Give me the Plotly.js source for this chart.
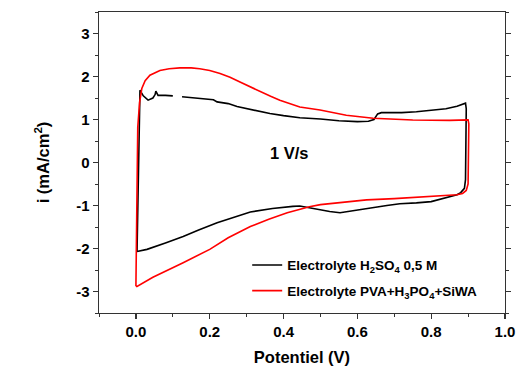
<!DOCTYPE html>
<html>
<head>
<meta charset="utf-8">
<script src="https://cdn.plot.ly/plotly-3.0.1.min.js"></script>
<style>html,body{margin:0;padding:0;background:#fff;}#chart{width:517px;height:369px;}</style>
</head>
<body>
<div id="chart"></div>
<script>
// H2SO4 0,5 M cyclic voltammogram (null = gap in the trace)
const h2so4X = [0.003,0.005,0.007,0.009,0.010,0.011,0.020,0.033,0.046,0.052,0.054,0.060,0.080,0.100,null,0.125,0.170,0.210,0.220,0.250,0.274,0.300,0.363,0.400,0.444,0.500,0.550,0.600,0.630,0.645,0.655,0.665,0.680,0.720,0.760,0.800,0.840,0.870,0.888,0.893,0.895,0.895,0.894,0.893,0.890,0.886,0.880,0.870,0.840,0.800,0.760,0.715,0.680,0.625,0.580,0.553,0.525,0.480,0.444,0.425,0.370,0.310,0.260,0.220,0.170,0.128,0.080,0.030,0.003];
const h2so4Y = [-2.07,-1.0,0.0,1.0,1.5,1.68,1.55,1.45,1.50,1.58,1.66,1.56,1.56,1.55,null,1.53,1.50,1.46,1.41,1.37,1.30,1.25,1.14,1.09,1.04,1.01,0.97,0.95,0.96,1.00,1.13,1.16,1.16,1.16,1.18,1.21,1.25,1.31,1.36,1.38,1.25,0.5,0.0,-0.4,-0.6,-0.65,-0.70,-0.75,-0.82,-0.91,-0.94,-0.96,-1.00,-1.08,-1.14,-1.17,-1.14,-1.06,-1.01,-1.02,-1.07,-1.15,-1.28,-1.40,-1.57,-1.72,-1.87,-2.02,-2.07];
// PVA+H3PO4+SiWA cyclic voltammogram
const pvaX = [0.000,0.002,0.003,0.005,0.010,0.016,0.025,0.038,0.065,0.090,0.119,0.150,0.173,0.200,0.228,0.255,0.282,0.310,0.336,0.365,0.390,0.444,0.499,0.570,0.643,0.700,0.750,0.850,0.900,0.902,0.902,0.900,0.895,0.885,0.870,0.805,0.700,0.625,0.550,0.500,0.470,0.444,0.410,0.360,0.310,0.250,0.200,0.128,0.046,0.003,0.000];
const pvaY = [-2.88,-1.5,0.0,0.82,1.40,1.72,1.90,2.03,2.14,2.18,2.20,2.20,2.18,2.14,2.07,1.98,1.87,1.76,1.64,1.54,1.45,1.29,1.22,1.10,1.03,1.00,0.99,0.98,0.99,0.90,0.0,-0.5,-0.65,-0.72,-0.75,-0.79,-0.84,-0.87,-0.93,-0.98,-1.03,-1.09,-1.17,-1.32,-1.49,-1.75,-2.02,-2.33,-2.67,-2.88,-2.88];

const seriesNames = ['Electrolyte H<sub>2</sub>SO<sub>4</sub> 0,5 M','Electrolyte PVA+H<sub>3</sub>PO<sub>4</sub>+SiWA'];
const xTickVals = [0.0,0.2,0.4,0.6,0.8,1.0];
const xTickText = ['0.0','0.2','0.4','0.6','0.8','1.0'];
const yTickVals = [-3,-2,-1,0,1,2,3];
const yTickText = ['-3','-2','-1','0','1','2','3'];
const scanRateLabel = '1 V/s';

const F = 'Liberation Sans, Arial, sans-serif';

const traces = [
  {x: h2so4X, y: h2so4Y, mode: 'lines', name: seriesNames[0], connectgaps: false, legendgroup: 'a',
   line: {color: '#000000', width: 1.6}},
  {x: pvaX, y: pvaY, mode: 'lines', name: seriesNames[1], legendgroup: 'b',
   line: {color: '#ff0000', width: 1.6}}
];

const layout = {
  width: 517, height: 369,
  margin: {l: 99, r: 12, t: 12, b: 56},
  paper_bgcolor: '#fff', plot_bgcolor: '#fff',
  showlegend: true,
  legend: {x: 0.365, xanchor: 'left', y: 0.21, yanchor: 'top',
           bgcolor: 'rgba(0,0,0,0)', borderwidth: 0,
           font: {family: F, size: 13.5, color: '#000', weight: 'bold'},
           itemwidth: 30, tracegroupgap: 5},
  xaxis: {range: [-0.1, 1.0], tickvals: xTickVals, ticktext: xTickText,
          ticks: 'outside', ticklen: 5, tickwidth: 1.2, tickcolor: '#333',
          minor: {dtick: 0.1, tick0: 0, ticks: 'outside', ticklen: 3, tickwidth: 1, tickcolor: '#333'},
          showline: true, linecolor: '#333', linewidth: 1.3, mirror: true,
          showgrid: false, zeroline: false,
          tickfont: {family: F, size: 15, color: '#000', weight: 'bold'},
          title: {text: 'Potentiel (V)', standoff: 12,
                  font: {family: F, size: 16.5, color: '#000', weight: 'bold'}}},
  yaxis: {range: [-3.5, 3.5], tickvals: yTickVals, ticktext: yTickText,
          ticks: 'outside', ticklen: 5, tickwidth: 1.2, tickcolor: '#333',
          minor: {dtick: 0.5, tick0: 0, ticks: 'outside', ticklen: 3, tickwidth: 1, tickcolor: '#333'},
          showline: true, linecolor: '#333', linewidth: 1.3, mirror: 'allticks',
          showgrid: false, zeroline: false,
          tickfont: {family: F, size: 15, color: '#000', weight: 'bold'},
          title: {text: 'i (mA/cm<sup>2</sup>)', standoff: 22,
                  font: {family: F, size: 16.5, color: '#000', weight: 'bold'}}},
  annotations: [{x: 0.415, y: 0.22, xref: 'x', yref: 'y', text: scanRateLabel, showarrow: false,
                 font: {family: F, size: 16.5, color: '#000', weight: 'bold'}}]
};

Plotly.newPlot('chart', traces, layout, {displayModeBar: false, staticPlot: true});
</script>
</body>
</html>
